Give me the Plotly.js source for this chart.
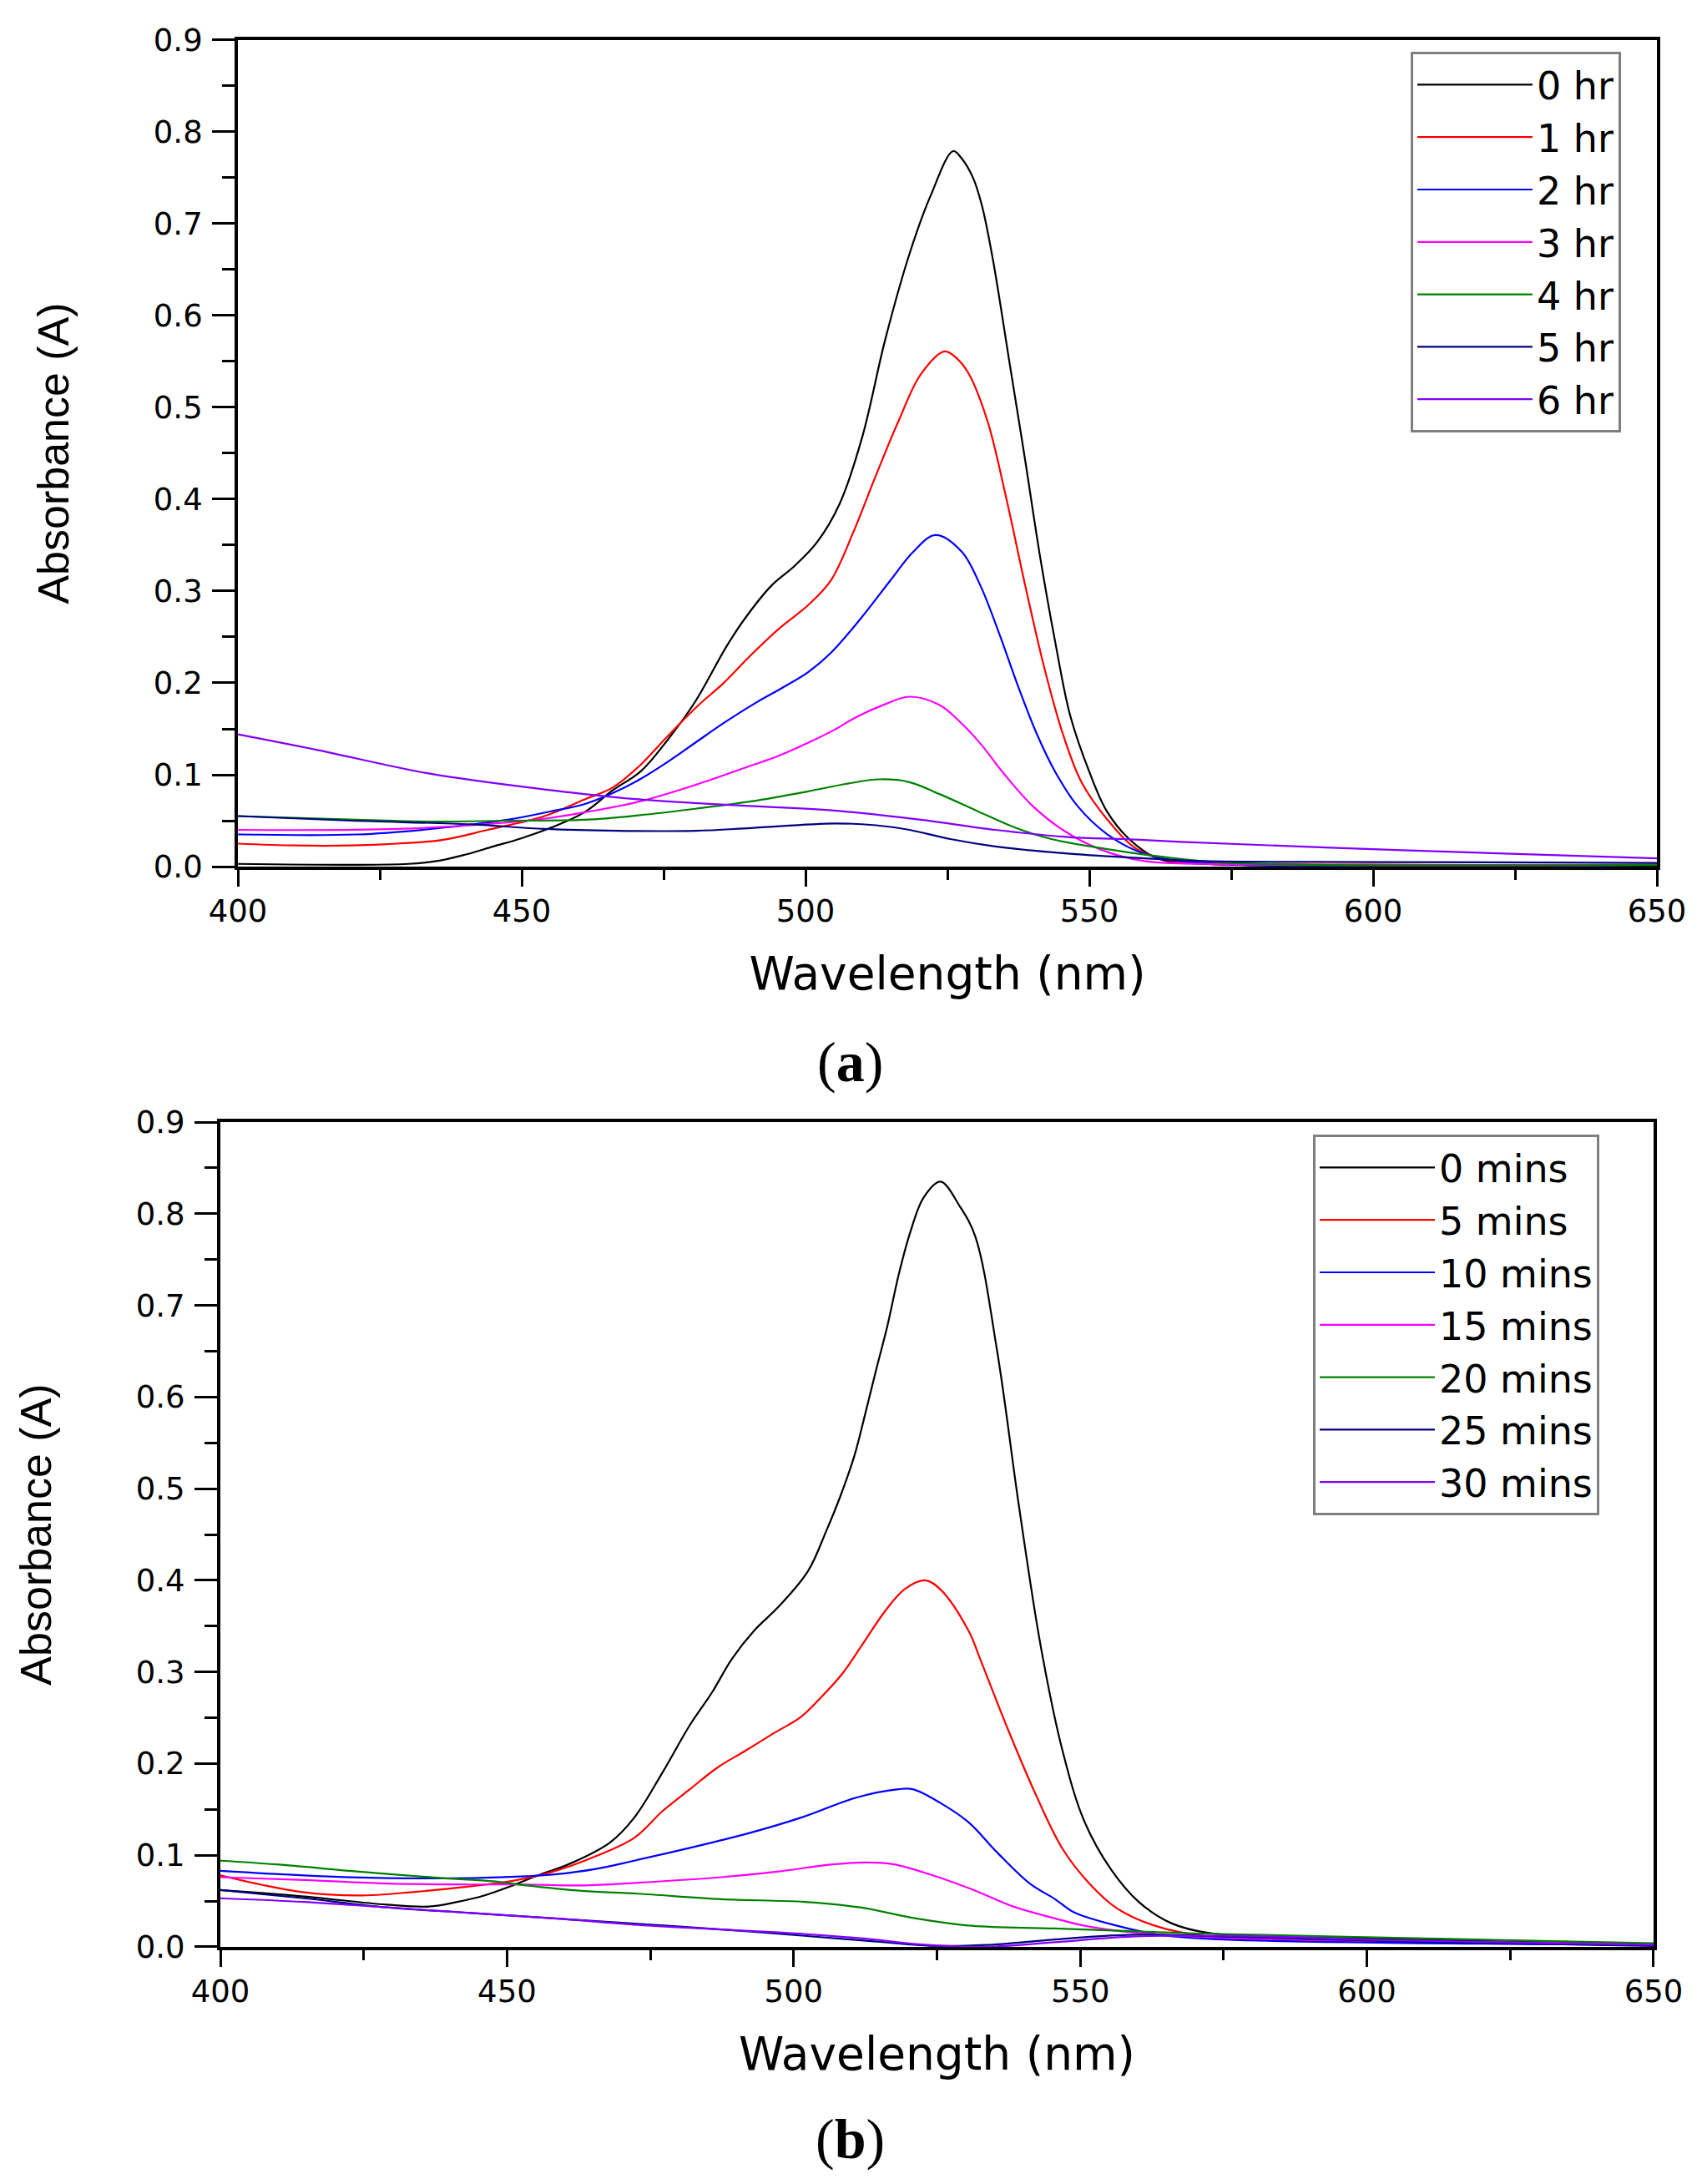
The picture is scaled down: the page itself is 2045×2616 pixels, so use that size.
<!DOCTYPE html>
<html>
<head>
<meta charset="utf-8">
<script src="https://cdn.plot.ly/plotly-3.0.1.min.js"></script>
<style>
  body { margin: 0; background: #fff; }
  #myDiv { width: 2045px; height: 2616px; }
</style>
</head>
<body>
<div id="myDiv"></div>
<script>
// ------ PANEL (a) - ABSORBANCE VS WAVELENGTH, HOURS
const hrNames = ["0 hr", "1 hr", "2 hr", "3 hr", "4 hr", "5 hr", "6 hr"];

const hr0X = [400, 420, 430, 435, 440, 445, 450, 455, 461, 466, 471, 475.7, 480.6, 486, 489.3, 494, 498, 502, 506, 510, 514, 518.3, 522, 526, 527.5, 529.5, 531.1, 533, 536, 538.7, 541.3, 544, 546.6, 550, 553, 557, 562, 570, 600, 650];
const hr0Y = [0.003, 0.002, 0.003, 0.006, 0.013, 0.022, 0.031, 0.042, 0.059, 0.083, 0.104, 0.138, 0.18, 0.239, 0.270, 0.306, 0.327, 0.353, 0.395, 0.468, 0.573, 0.667, 0.73, 0.779, 0.771, 0.750, 0.719, 0.661, 0.546, 0.442, 0.338, 0.244, 0.165, 0.103, 0.061, 0.030, 0.009, 0.003, 0.002, 0.001];

const hr1X = [400, 410, 420, 428, 436, 444, 454, 461, 466, 470.8, 475.7, 481, 485.4, 490, 495.3, 500.5, 504.5, 508.4, 512.4, 516.3, 520.3, 524.5, 526.7, 528.8, 532.1, 535.4, 538.7, 542, 545.3, 548.6, 553.2, 558.4, 565, 580, 650];
const hr1Y = [0.025, 0.023, 0.023, 0.025, 0.029, 0.040, 0.055, 0.073, 0.086, 0.110, 0.142, 0.175, 0.199, 0.228, 0.259, 0.285, 0.312, 0.364, 0.426, 0.484, 0.536, 0.561, 0.553, 0.536, 0.484, 0.400, 0.306, 0.218, 0.145, 0.092, 0.051, 0.019, 0.006, 0.003, 0.002];

const hr2X = [400, 421, 434, 447.5, 455, 461, 466, 470.8, 475.7, 480.6, 485.5, 491.4, 496, 500.5, 504.5, 509.7, 515, 519, 522.9, 527.5, 530.8, 534.1, 537.4, 540.7, 544, 547.9, 553.2, 559.7, 570, 650];
const hr2Y = [0.035, 0.035, 0.041, 0.051, 0.060, 0.068, 0.080, 0.095, 0.114, 0.135, 0.156, 0.179, 0.195, 0.212, 0.233, 0.270, 0.312, 0.343, 0.361, 0.343, 0.306, 0.254, 0.197, 0.145, 0.103, 0.066, 0.035, 0.014, 0.004, 0.002];

const hr3X = [400, 428, 447.5, 455, 461, 470.8, 480.6, 490.4, 495, 500.5, 505.1, 509, 513.7, 518.3, 523.6, 526.8, 530.8, 534.7, 540, 545.3, 551.8, 559.7, 570, 650];
const hr3Y = [0.040, 0.041, 0.048, 0.053, 0.059, 0.071, 0.089, 0.110, 0.120, 0.135, 0.149, 0.163, 0.176, 0.185, 0.176, 0.160, 0.134, 0.103, 0.066, 0.040, 0.019, 0.006, 0.003, 0.002];

const hr4X = [400, 421, 434, 447.5, 461, 470.8, 480.6, 490.4, 500.5, 507.1, 513, 518.3, 523.6, 530.1, 536.7, 543.3, 553.2, 562.4, 575, 650];
const hr4Y = [0.055, 0.051, 0.049, 0.050, 0.051, 0.056, 0.063, 0.071, 0.082, 0.090, 0.095, 0.092, 0.079, 0.061, 0.043, 0.030, 0.019, 0.011, 0.004, 0.002];

const hr5X = [400, 420, 441, 454, 467, 480.6, 490.4, 505.1, 512.4, 518.3, 525.5, 533.4, 546.6, 559.7, 570, 600, 650];
const hr5Y = [0.055, 0.050, 0.046, 0.041, 0.039, 0.039, 0.042, 0.047, 0.045, 0.040, 0.030, 0.022, 0.014, 0.009, 0.006, 0.005, 0.004];

const hr6X = [400, 414, 434, 454, 461, 471, 481, 490, 505, 520.3, 533.4, 546.6, 556, 566, 604, 650];
const hr6Y = [0.144, 0.127, 0.101, 0.084, 0.079, 0.073, 0.069, 0.066, 0.061, 0.051, 0.040, 0.032, 0.030, 0.027, 0.018, 0.009];

// ------ PANEL (b) - ABSORBANCE VS WAVELENGTH, MINUTES
const minNames = ["0 mins", "5 mins", "10 mins", "15 mins", "20 mins", "25 mins", "30 mins"];

const min0X = [400, 414.6, 429, 436.4, 441.3, 446, 451, 455.8, 460.7, 468, 472.2, 477.1, 481.9, 485.8, 489.2, 493.1, 497.5, 502.5, 505.7, 508.1, 510.6, 512.5, 514.4, 516.4, 518.3, 520.3, 522.7, 525.6, 529, 531.7, 535.5, 539.3, 543.1, 546.9, 550.7, 555.4, 560.2, 565.8, 572.5, 600, 650];
const min0Y = [0.062, 0.055, 0.046, 0.044, 0.049, 0.056, 0.067, 0.079, 0.090, 0.114, 0.141, 0.190, 0.242, 0.278, 0.314, 0.345, 0.372, 0.410, 0.454, 0.491, 0.536, 0.582, 0.630, 0.679, 0.733, 0.779, 0.818, 0.835, 0.808, 0.775, 0.650, 0.481, 0.328, 0.214, 0.137, 0.084, 0.049, 0.026, 0.015, 0.009, 0.003];

const min5X = [400, 407, 414, 424, 434, 443.7, 451, 458, 465.5, 472.2, 477.1, 481.9, 486.8, 491.6, 496.5, 501.3, 505.2, 508.6, 512, 515.9, 519.3, 522.9, 525.6, 530.5, 532.6, 537.4, 542.1, 546.9, 551.6, 556.4, 563, 572.5, 600, 650];
const min5Y = [0.078, 0.068, 0.060, 0.056, 0.060, 0.066, 0.072, 0.082, 0.099, 0.119, 0.148, 0.172, 0.196, 0.214, 0.233, 0.251, 0.275, 0.299, 0.330, 0.366, 0.390, 0.400, 0.390, 0.345, 0.313, 0.237, 0.168, 0.107, 0.069, 0.042, 0.023, 0.011, 0.006, 0.002];

const min10X = [400, 414.6, 429, 443.7, 453.4, 458.3, 465.5, 472.2, 481.9, 491.6, 501.3, 511, 518.3, 520.8, 525.6, 530.5, 535.5, 541.2, 545.6, 548.8, 556.4, 563.9, 575, 650];
const min10Y = [0.083, 0.078, 0.075, 0.075, 0.077, 0.079, 0.085, 0.094, 0.108, 0.123, 0.141, 0.163, 0.172, 0.172, 0.157, 0.136, 0.103, 0.069, 0.052, 0.038, 0.023, 0.013, 0.008, 0.002];

const min15X = [400, 414.6, 429, 443.7, 453.4, 463, 472.8, 487.4, 497.1, 506.8, 512.6, 517.5, 523.8, 531, 538.3, 545.6, 550.7, 560.2, 575, 650];
const min15Y = [0.076, 0.073, 0.069, 0.068, 0.068, 0.067, 0.070, 0.076, 0.082, 0.090, 0.092, 0.090, 0.079, 0.063, 0.044, 0.031, 0.023, 0.015, 0.010, 0.003];

const min20X = [400, 409.7, 424.3, 438.8, 448.5, 453.4, 463.1, 472.8, 487.4, 501.9, 511.6, 521.3, 531, 545.6, 567.7, 596.2, 650];
const min20Y = [0.094, 0.090, 0.082, 0.075, 0.071, 0.067, 0.061, 0.058, 0.052, 0.049, 0.043, 0.031, 0.023, 0.020, 0.015, 0.011, 0.004];

const min25X = [400, 414.6, 429, 443.7, 458.3, 472.8, 487.4, 501.9, 514, 525, 533.5, 545.6, 558.3, 577, 605.7, 650];
const min25Y = [0.062, 0.053, 0.043, 0.037, 0.031, 0.025, 0.019, 0.012, 0.006, 0.001, 0.002, 0.008, 0.013, 0.011, 0.006, 0.001];

const min30X = [400, 414.6, 429, 443.7, 458.3, 472.8, 487.4, 501.9, 514, 521.3, 533.5, 545.6, 558.3, 577, 605.7, 650];
const min30Y = [0.053, 0.049, 0.043, 0.037, 0.031, 0.024, 0.019, 0.014, 0.008, 0.003, 0.000, 0.005, 0.011, 0.012, 0.007, 0.002];

// ------ COLORES (Origin style)
const lineColors = ["#000000", "#ff0000", "#0000ff", "#ff00ff", "#008000", "#000080", "#8000ff"];

// FUNCTIONS
function makeTrace(x, y, name, i, xa, ya, leg) {
    return {
        x: x,
        y: y,
        name: name,
        type: 'scatter',
        mode: 'lines',
        xaxis: xa,
        yaxis: ya,
        legend: leg,
        line: { color: lineColors[i], width: 2.2, shape: 'spline', smoothing: 1.0 }
    };
}

function makeXAxis(domain, anchor) {
    return {
        domain: domain,
        anchor: anchor,
        range: [400, 650],
        dtick: 50,
        showline: true, linewidth: 4, linecolor: 'black', mirror: true,
        showgrid: false, zeroline: false,
        ticks: 'outside', ticklen: 20, tickwidth: 3, tickcolor: 'black',
        minor: { ticks: 'outside', dtick: 25, ticklen: 12, tickwidth: 3, tickcolor: 'black', showgrid: false },
        ticklabelstandoff: -2,
        tickfont: { family: 'DejaVu Sans', size: 37, color: 'black' },
        title: { text: 'Wavelength (nm)', font: { family: 'DejaVu Sans', size: 55, color: 'black' }, standoff: 35 }
    };
}

function makeYAxis(domain, anchor) {
    return {
        domain: domain,
        anchor: anchor,
        range: [0, 0.9],
        dtick: 0.1,
        tickformat: '.1f',
        showline: true, linewidth: 4, linecolor: 'black', mirror: true,
        showgrid: false, zeroline: false,
        ticks: 'outside', ticklen: 27, tickwidth: 3, tickcolor: 'black',
        minor: { ticks: 'outside', dtick: 0.05, ticklen: 15, tickwidth: 3, tickcolor: 'black', showgrid: false },
        ticklabelstandoff: 4,
        tickfont: { family: 'DejaVu Sans', size: 37, color: 'black' },
        title: { text: 'Absorbance (A)', font: { family: 'Liberation Sans, Arial, sans-serif', size: 52, color: 'black' }, standoff: 86 }
    };
}

function makeLegend(x, y) {
    return {
        x: x, y: y, xanchor: 'right', yanchor: 'top',
        bgcolor: 'white', bordercolor: '#7f7f7f', borderwidth: 3,
        font: { family: 'DejaVu Sans', size: 46, color: 'black' },
        itemwidth: 138, tracegroupgap: 0
    };
}

const hrX = [hr0X, hr1X, hr2X, hr3X, hr4X, hr5X, hr6X];
const hrY = [hr0Y, hr1Y, hr2Y, hr3Y, hr4Y, hr5Y, hr6Y];
const minX = [min0X, min5X, min10X, min15X, min20X, min25X, min30X];
const minY = [min0Y, min5Y, min10Y, min15Y, min20Y, min25Y, min30Y];

var data = [];
for (var i = 0; i < hrNames.length; i++) {
    data.push(makeTrace(hrX[i], hrY[i], hrNames[i], i, 'x', 'y', 'legend'));
}
for (var j = 0; j < minNames.length; j++) {
    data.push(makeTrace(minX[j], minY[j], minNames[j], j, 'x2', 'y2', 'legend2'));
}

var layout = {
    width: 2045,
    height: 2616,
    margin: { l: 0, r: 0, t: 0, b: 0 },
    paper_bgcolor: 'white',
    plot_bgcolor: 'white',
    showlegend: true,
    font: { family: 'DejaVu Sans', color: 'black' },
    xaxis: makeXAxis([0.1394, 0.9707], 'y'),
    yaxis: makeYAxis([0.6032, 0.9817], 'x'),
    xaxis2: makeXAxis([0.1291, 0.9687], 'y2'),
    yaxis2: makeYAxis([0.1086, 0.4862], 'x2'),
    legend: makeLegend(0.9496, 0.9763),
    legend2: makeLegend(0.9369, 0.4805),
    annotations: [
        { text: '(<b>a</b>)', xref: 'paper', yref: 'paper', x: 0.4978, y: 0.5138, showarrow: false,
          xanchor: 'center', yanchor: 'middle', font: { family: 'Liberation Serif', size: 68, color: 'black' } },
        { text: '(<b>b</b>)', xref: 'paper', yref: 'paper', x: 0.4978, y: 0.0206, showarrow: false,
          xanchor: 'center', yanchor: 'middle', font: { family: 'Liberation Serif', size: 68, color: 'black' } }
    ]
};

Plotly.newPlot('myDiv', data, layout, { staticPlot: true });
</script>
</body>
</html>
